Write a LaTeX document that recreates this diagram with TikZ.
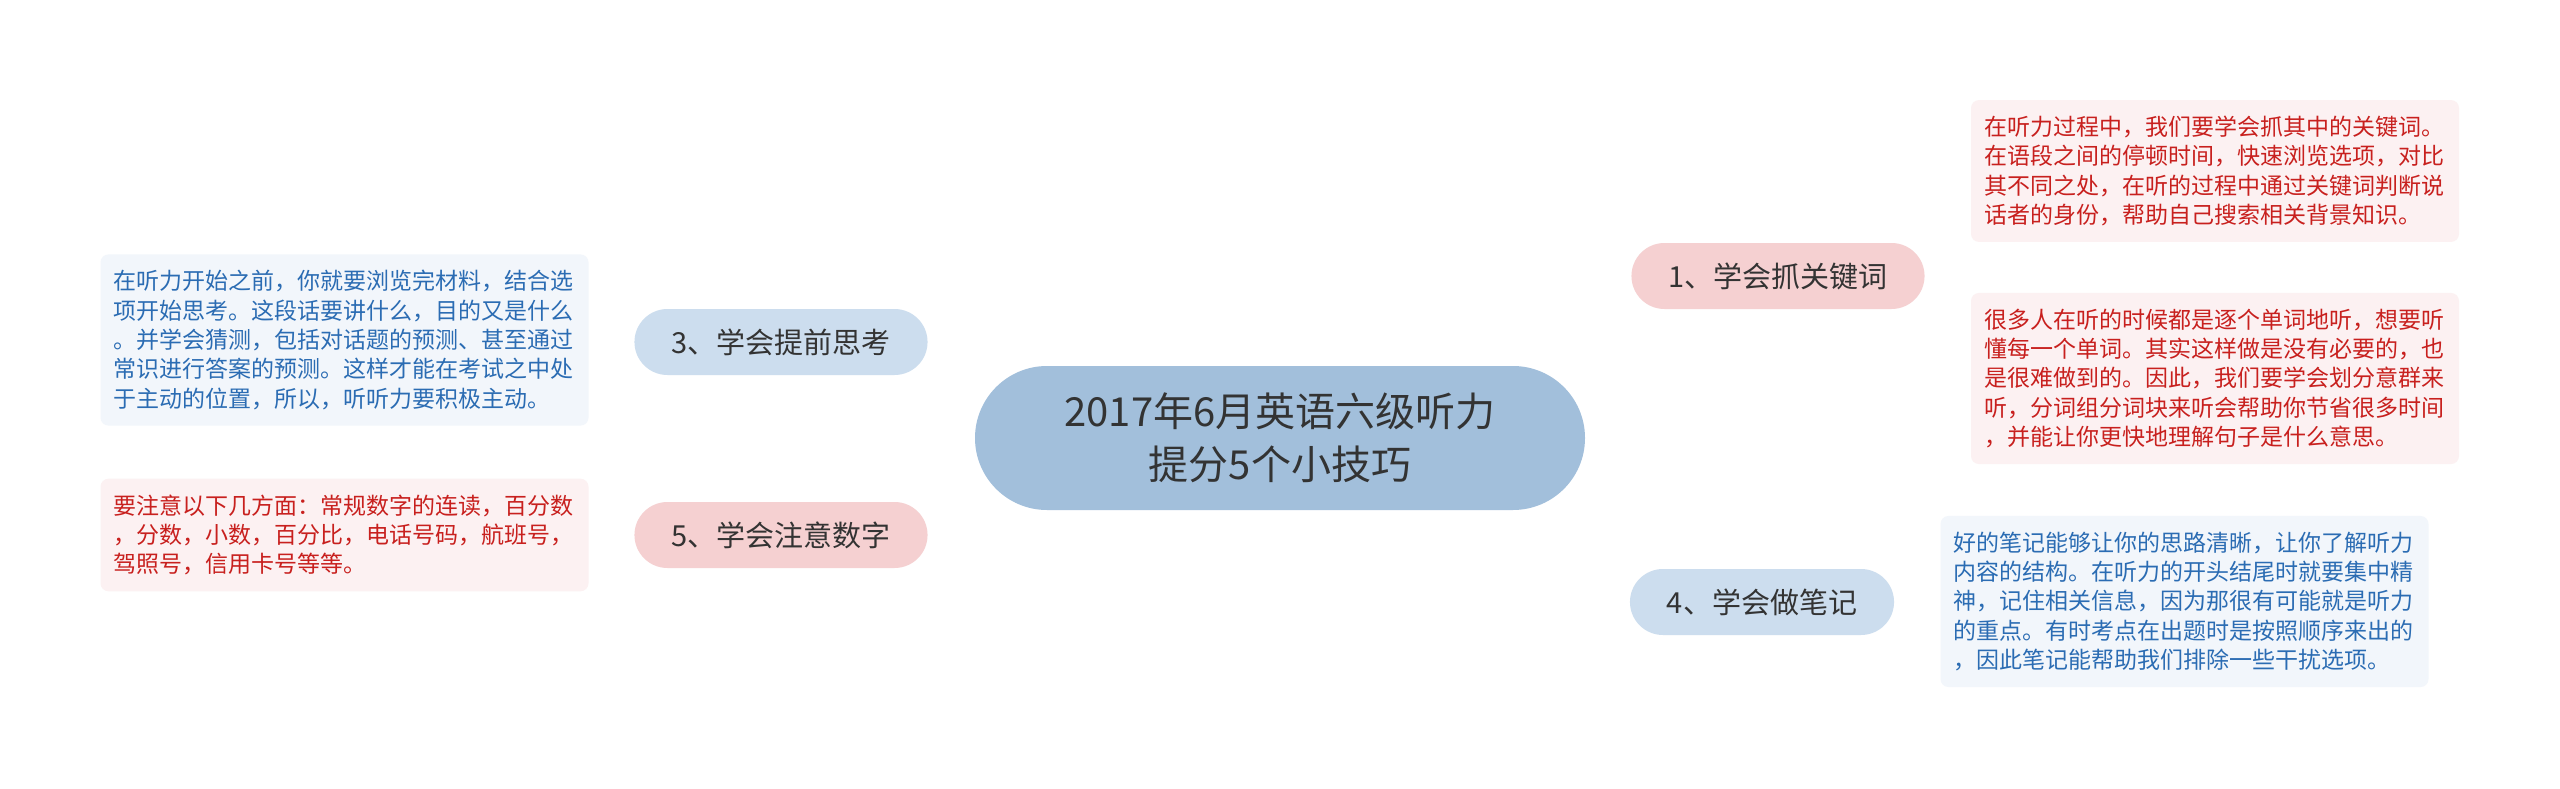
\documentclass[tikz,border=0pt]{standalone}
\usepackage{fontspec}
\newfontfamily\cjk{Noto Sans CJK SC}
\usetikzlibrary{backgrounds}
\definecolor{centerfill}{HTML}{A2BFDB}
\definecolor{pinkfill}{HTML}{F5D0D1}
\definecolor{bluefill}{HTML}{CCDDEE}
\definecolor{pinkline}{HTML}{F2C5C8}
\definecolor{blueline}{HTML}{C8DAEC}
\definecolor{pinkbox}{HTML}{FCF1F2}
\definecolor{bluebox}{HTML}{F2F6FB}
\definecolor{redtext}{HTML}{C8201E}
\definecolor{bluetext}{HTML}{2B6CB3}
\definecolor{darktext}{HTML}{333333}
\begin{document}
\begin{tikzpicture}[x=1pt,y=-1pt,
  centernode/.style={fill=centerfill, rounded corners=72pt, minimum width=610pt, minimum height=144pt,
    align=center, text=darktext, font=\cjk\fontsize{40}{53}\selectfont},
  topic/.style={rounded corners=33pt, minimum height=66pt, inner xsep=37pt, inner ysep=0pt,
    text=darktext, font=\cjk\fontsize{29}{34}\selectfont},
  pinktopic/.style={topic, fill=pinkfill},
  bluetopic/.style={topic, fill=bluefill},
  note/.style={rounded corners=8pt, text width=462pt, inner xsep=13pt, inner ysep=16pt,
    align=left, font=\cjk\fontsize{23}{29.3}\selectfont},
  pinknote/.style={note, fill=pinkbox, text=redtext},
  bluenote/.style={note, fill=bluebox, text=bluetext},
  pinkln/.style={draw=pinkline, line width=3.5pt},
  blueln/.style={draw=blueline, line width=3.5pt}
]
\fill[white] (0,0) rectangle (2560,789);
\useasboundingbox (0,0) rectangle (2560,789);

\node[centernode] (c) at (1280,438) {2017年6月英语六级听力\\提分5个小技巧};

\node[pinktopic] (n1) at (1778,276) {1、学会抓关键词};
\node[bluetopic] (n3) at (781,342) {3、学会提前思考};
\node[bluetopic] (n4) at (1762,602) {4、学会做笔记};
\node[pinktopic] (n5) at (781,535) {5、学会注意数字};

\node[pinknote] (bA) at (2215,171) {在听力过程中，我们要学会抓其中的关键词。\\在语段之间的停顿时间，快速浏览选项，对比\\其不同之处，在听的过程中通过关键词判断说\\话者的身份，帮助自己搜索相关背景知识。};
\node[pinknote] (bB) at (2215,378.5) {很多人在听的时候都是逐个单词地听，想要听\\懂每一个单词。其实这样做是没有必要的，也\\是很难做到的。因此，我们要学会划分意群来\\听，分词组分词块来听会帮助你节省很多时间\\，并能让你更快地理解句子是什么意思。};
\node[bluenote] (bC) at (2184.5,601.5) {好的笔记能够让你的思路清晰，让你了解听力\\内容的结构。在听力的开头结尾时就要集中精\\神，记住相关信息，因为那很有可能就是听力\\的重点。有时考点在出题时是按照顺序来出的\\，因此笔记能帮助我们排除一些干扰选项。};
\node[bluenote] (bD) at (344.5,340) {在听力开始之前，你就要浏览完材料，结合选\\项开始思考。这段话要讲什么，目的又是什么\\。并学会猜测，包括对话题的预测、甚至通过\\常识进行答案的预测。这样才能在考试之中处\\于主动的位置，所以，听听力要积极主动。};
\node[pinknote] (bE) at (344.5,535) {要注意以下几方面：常规数字的连读，百分数\\，分数，小数，百分比，电话号码，航班号，\\驾照号，信用卡号等等。};

\begin{pgfonlayer}{background}
  \draw[pinkln] ([xshift=22pt]c.north) .. controls +(48,-66) and +(-180,0) .. (n1.west);
  \draw[blueln] ([xshift=22pt]c.south) .. controls +(48,66) and +(-180,0) .. (n4.west);
  \draw[blueln] (n3.east) -- +(70,0) .. controls +(100,0) and +(-35,-13) .. ([xshift=-85pt]c.north);
  \draw[pinkln] (n5.east) -- +(70,0) .. controls +(100,0) and +(-35,13) .. ([xshift=-85pt]c.south);
  \draw[pinkln] (n1.east) -- ++(22,0) coordinate (j1);
  \draw[pinkln, rounded corners=25pt] (bA.west) -| (j1) |- (bB.west);
  \draw[blueln] (n4.east) -- (n4.east -| bC.west);
  \draw[blueln] (n3.west) -- (n3.west -| bD.east);
  \draw[pinkln] (n5.west) -- (n5.west -| bE.east);
\end{pgfonlayer}
\end{tikzpicture}
\end{document}
